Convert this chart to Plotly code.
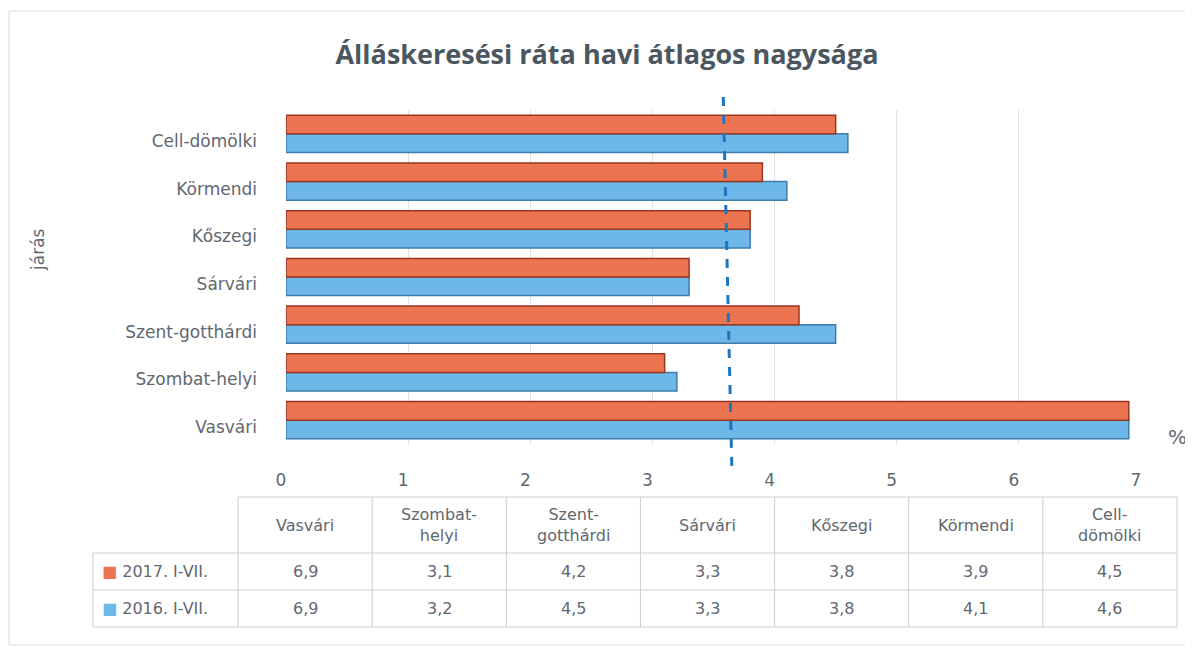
import plotly.graph_objects as go

# ---- data ----
districts = ["Vasvári", "Szombat-helyi", "Szent-gotthárdi", "Sárvári",
             "Kőszegi", "Körmendi", "Cell-dömölki"]
table_headers = ["Vasvári", "Szombat-<br>helyi", "Szent-<br>gotthárdi", "Sárvári",
                 "Kőszegi", "Körmendi", "Cell-<br>dömölki"]
series_names = ["2017. I-VII.", "2016. I-VII."]
values_2017 = [6.9, 3.1, 4.2, 3.3, 3.8, 3.9, 4.5]
values_2016 = [6.9, 3.2, 4.5, 3.3, 3.8, 4.1, 4.6]
x_ticks = [0, 1, 2, 3, 4, 5, 6, 7]
avg_line_top = 3.58      # reference (average) line, read at top of plot
avg_line_bottom = 3.65   # and at bottom (3D perspective tilt)

# ---- style ----
ORANGE = "#EC7450"
ORANGE_EDGE = "#9A3520"
BLUE = "#6DB8E8"
BLUE_EDGE = "#3F7BA8"
TEXT = "#5F6770"
TITLE = "#4A5660"
FONT = "DejaVu Sans"
TITLE_FONT = "Open Sans"

OFF = 8                      # page body margin
PAGE_W, PAGE_H = 1193, 653
W, H = PAGE_W - OFF, PAGE_H - OFF
L, R, T, B = 286, 1141, 110, 444   # plot area in page pixels


def px(xpix):
    return (xpix - L) / (R - L)


def py(ypix):
    return (B - ypix) / (B - T)


fig = go.Figure()
fig.add_trace(go.Bar(
    y=districts, x=values_2016, name=series_names[1], orientation="h",
    marker=dict(color=BLUE, line=dict(color=BLUE_EDGE, width=1.5)),
))
fig.add_trace(go.Bar(
    y=districts, x=values_2017, name=series_names[0], orientation="h",
    marker=dict(color=ORANGE, line=dict(color=ORANGE_EDGE, width=1.5)),
))

shapes = []
annotations = []

# average dashed line
shapes.append(dict(type="line", xref="x", yref="paper",
                   x0=avg_line_top, x1=avg_line_bottom,
                   y0=py(97), y1=py(467),
                   line=dict(color="#1C75C0", width=3, dash="dash")))

# outer frame
shapes.append(dict(type="rect", xref="paper", yref="paper",
                   x0=px(9), x1=px(1186), y0=py(645), y1=py(11),
                   line=dict(color="#DADADA", width=1), layer="below"))

# ---- data table below chart ----
col_left = 238
col_w = (1177 - 238) / len(districts)
leg_left = 93
y_head_top, y_head_bot, y_r1_bot, y_r2_bot = 497, 553, 590, 627
GRID = "#C9CDD2"
right_edge = col_left + col_w * len(districts)


def hline(x0, x1, y):
    shapes.append(dict(type="line", xref="paper", yref="paper",
                       x0=px(x0), x1=px(x1), y0=py(y), y1=py(y),
                       line=dict(color=GRID, width=1)))


def vline(x, y0, y1):
    shapes.append(dict(type="line", xref="paper", yref="paper",
                       x0=px(x), x1=px(x), y0=py(y0), y1=py(y1),
                       line=dict(color=GRID, width=1)))


hline(col_left, right_edge, y_head_top)
hline(leg_left, right_edge, y_head_bot)
hline(leg_left, right_edge, y_r1_bot)
hline(leg_left, right_edge, y_r2_bot)
vline(leg_left, y_head_bot, y_r2_bot)
for i in range(len(districts) + 1):
    vline(col_left + i * col_w, y_head_top, y_r2_bot)


def label(x, y, text, size=16, xanchor="center", **kw):
    annotations.append(dict(xref="paper", yref="paper", x=px(x), y=py(y),
                            text=text, showarrow=False, xanchor=xanchor,
                            yanchor="middle",
                            font=dict(family=FONT, size=size, color=TEXT), **kw))


for i, h in enumerate(table_headers):
    label(col_left + (i + 0.5) * col_w, (y_head_top + y_head_bot) / 2, h)

rows = [(series_names[0], values_2017, ORANGE, (y_head_bot + y_r1_bot) / 2),
        (series_names[1], values_2016, BLUE, (y_r1_bot + y_r2_bot) / 2)]
for name, vals, col, yc in rows:
    label(leg_left + 7, yc, f"<span style='color:{col}'>■</span> {name}",
          xanchor="left")
    for i, v in enumerate(vals):
        label(col_left + (i + 0.5) * col_w, yc, f"{v:.1f}".replace(".", ","))

# axis titles
label(38, 250, "járás", size=17, textangle=-90)
label(1177, 437, "%", size=20)

fig.update_layout(
    width=W, height=H,
    margin=dict(l=L - OFF, r=PAGE_W - R, t=T - OFF, b=PAGE_H - B, pad=0),
    paper_bgcolor="white", plot_bgcolor="white",
    title=dict(text="<b>Álláskeresési ráta havi átlagos nagysága</b>",
               xref="paper", x=px(607), xanchor="center",
               yref="container", y=1 - (55 - OFF) / H, yanchor="middle",
               font=dict(family=TITLE_FONT, size=27, color=TITLE)),
    barmode="group", bargap=0.22, bargroupgap=0.0,
    showlegend=False,
    shapes=shapes, annotations=annotations,
    xaxis=dict(range=[0, 7], tickvals=x_ticks, showgrid=True,
               gridcolor="#DCE3EA", gridwidth=1, zeroline=False,
               showline=False, ticks="", ticklabelstandoff=24,
               ticklabelshift=-5,
               tickfont=dict(family=FONT, size=17, color=TEXT)),
    yaxis=dict(showgrid=False, zeroline=False, showline=False, ticks="",
               ticklabelstandoff=28, ticklabelshift=7,
               tickfont=dict(family=FONT, size=17, color=TEXT)),
)

fig.write_html("out.html")
